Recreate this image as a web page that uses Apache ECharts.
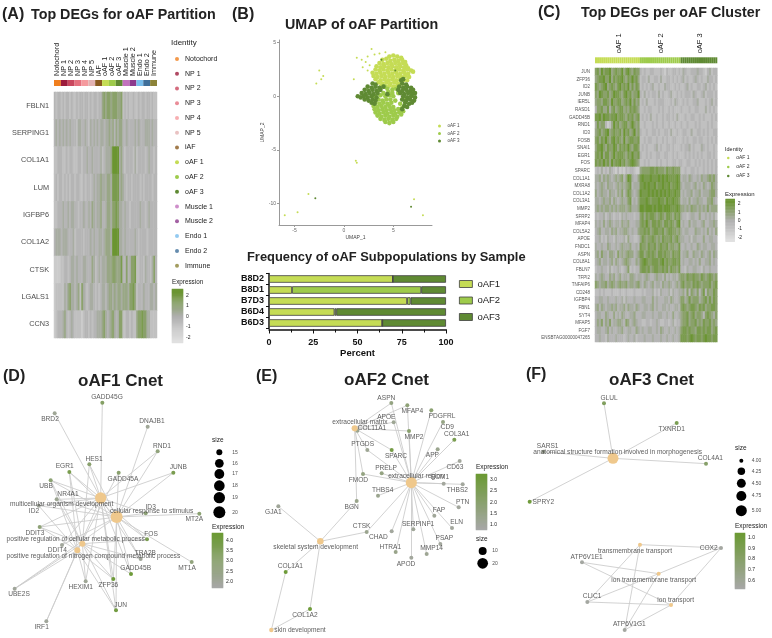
<!DOCTYPE html>
<html>
<head>
<meta charset="utf-8">
<style>
  html, body { margin: 0; background: #fff; }
  #chart { width: 772px; height: 638px; }
</style>
</head>
<body>
<div id="chart"></div>
<script src="https://cdn.jsdelivr.net/npm/echarts@6/dist/echarts.min.js"></script>
<script>
// ---- data ----
const identities = ['Notochord', 'NP 1', 'NP 2', 'NP 3', 'NP 4', 'NP 5', 'iAF', 'oAF 1', 'oAF 2', 'oAF 3', 'Muscle 1', 'Muscle 2', 'Endo 1', 'Endo 2', 'Immune']
const identityColors = ['#f07f1e', '#9c1b3c', '#c9475e', '#e5707e', '#f59a9e', '#e3b3b3', '#8a5a1f', '#c5dc55', '#9ecb4b', '#5f8a33', '#c272bd', '#8c3a8c', '#78bdec', '#3f6f9a', '#8c8338']

// panel A, one digit per cell (0 low .. 9 high), 4 cells per identity
const genesA = ['FBLN1', 'SERPING1', 'COL1A1', 'LUM', 'IGFBP6', 'COL1A2', 'CTSK', 'LGALS1', 'CCN3']
const heatA = [
  '4344 3434 4343 3434 4344 3434 4344 6767 7677 7667 3434 3343 3434 4344 3433',
  '4545 4545 4544 4355 4454 3545 4545 5455 6564 6566 4454 4445 4544 4555 4544',
  '3344 4334 3443 3344 3445 4454 4445 3455 5699 9956 4344 4435 3444 4345 4434',
  '3434 4343 4344 3443 3434 4345 4556 5556 6588 8856 5434 4344 4434 3444 4344',
  '3344 4544 5455 4434 4544 5465 4556 4456 6577 8755 4544 3444 4454 4345 4444',
  '4555 4555 4445 3444 4344 4545 4455 4566 6599 9955 4544 4445 4344 4434 4444',
  '2222 3344 3455 4544 4554 4465 3454 5556 6677 6668 4474 5778 3344 3544 3574',
  '2333 3354 6755 4563 7543 4554 3434 5545 6656 5665 6665 7786 3444 5444 5545',
  '2344 4564 3454 3333 2344 3434 4555 6754 5675 4577 3344 3433 6778 7755 3333'
]

// panel B, UMAP
const umapXTicks = [-5, 0, 5]
const umapYTicks = [-10, -5, 0, 5]
const umapOaf1 = [
  [4.6,3.7],[5.0,3.8],[5.4,3.7],[5.8,3.6],[3.9,3.4],[4.3,3.5],[4.7,3.3],[5.1,3.4],[5.5,3.3],[5.9,3.4],[6.2,3.2],
  [3.6,3.1],[4.0,3.0],[4.4,3.1],[4.8,3.0],[5.2,3.1],[5.6,3.0],[6.0,3.1],[6.3,2.9],[3.3,2.8],[3.7,2.7],[4.1,2.8],[4.5,2.7],
  [4.9,2.8],[5.3,2.7],[5.7,2.8],[6.1,2.7],[6.5,2.6],[3.2,2.5],[3.6,2.4],[4.0,2.5],[4.4,2.4],[4.8,2.5],[5.2,2.4],[5.6,2.5],
  [6.0,2.4],[6.4,2.5],[6.8,2.4],[2.9,2.2],[3.3,2.1],[3.7,2.2],[4.1,2.1],[4.5,2.2],[4.9,2.1],[5.3,2.2],[5.7,2.1],[6.1,2.2],
  [6.5,2.1],[7.0,2.3],[3.0,1.9],[3.4,1.8],[3.8,1.9],[4.2,1.8],[4.6,1.9],[5.0,1.8],[5.4,1.9],[5.8,1.8],[6.2,1.9],[6.6,1.8],
  [3.2,1.6],[3.7,1.5],[4.1,1.6],[4.5,1.5],[4.9,1.6],[5.3,1.5],[5.7,1.6],[6.0,1.5],[6.4,1.5],[3.5,1.3],[3.9,1.2],[4.3,1.3],
  [4.7,1.2],[5.1,1.3],[5.5,1.2],[5.9,1.2],[3.8,1.0],[4.2,0.9],[4.6,1.0],[5.0,0.9],[5.4,1.0]
]
const umapOaf2 = [
  [4.2,-2.4],[4.6,-2.5],[5.0,-2.4],[3.7,-2.1],[4.1,-2.2],[4.5,-2.1],[4.9,-2.2],[5.3,-2.1],[3.4,-1.8],[3.8,-1.9],[4.2,-1.8],
  [4.6,-1.9],[5.0,-1.8],[5.4,-1.9],[5.8,-1.7],[3.2,-1.5],[3.6,-1.6],[4.0,-1.5],[4.4,-1.6],[4.8,-1.5],[5.2,-1.6],[5.6,-1.5],
  [6.0,-1.4],[3.1,-1.2],[3.5,-1.3],[3.9,-1.2],[4.3,-1.3],[4.7,-1.2],[5.1,-1.3],[5.5,-1.2],[5.9,-1.1],[3.0,-0.9],[3.4,-1.0],
  [3.8,-0.9],[4.2,-1.0],[4.6,-0.9],[5.0,-1.0],[3.2,-0.6],[3.6,-0.7],[4.0,-0.6],[4.4,-0.7],[4.8,-0.6],[3.5,-0.3],[3.9,-0.4],
  [4.3,-0.3],[4.7,-0.3],[5.2,-0.4],[3.1,0.0],[3.7,0.1],[4.2,0.0],[4.6,0.1],[5.0,0.0],[4.0,0.3],[4.5,0.4],[4.9,0.3],[5.5,0.3],
  [3.6,0.6],[4.4,0.7],[4.9,0.6],[5.3,0.7],[4.1,0.9],[5.7,-0.7],[6.0,-0.3]
]
const umapOaf3 = [
  [2.9,1.2],[3.2,1.1],[2.4,0.9],[2.8,0.8],[3.2,0.9],[3.6,0.8],[2.1,0.6],[2.5,0.5],[2.9,0.6],[3.3,0.5],[3.7,0.6],[1.8,0.3],
  [2.2,0.2],[2.6,0.3],[3.0,0.2],[3.4,0.3],[1.4,0.0],[1.7,-0.1],[2.0,0.0],[2.4,-0.1],[2.8,0.0],[3.3,-0.1],[2.1,-0.3],[2.5,-0.4],
  [2.9,-0.3],[3.2,-0.4],[2.8,-0.6],[3.1,-0.7],[4.0,0.9],[4.4,0.2],
  [5.8,1.5],[6.0,1.6],[5.9,1.2],[6.3,1.1],[5.6,0.9],[6.0,0.8],[6.4,0.9],[6.8,0.8],[5.5,0.6],[5.9,0.5],[6.3,0.6],[6.7,0.5],
  [7.0,0.6],[5.7,0.3],[6.1,0.2],[6.5,0.3],[6.9,0.2],[7.2,0.3],[6.0,0.0],[6.4,-0.1],[6.8,0.0],[7.2,-0.1],[5.9,-0.3],[6.3,-0.4],
  [6.7,-0.3],[7.1,-0.4],[6.2,-0.6],[6.6,-0.7],[6.9,-0.6],[6.1,-0.9],[6.4,-1.0],[5.9,-1.2]
]
// lone cells away from the main cloud
const strayOaf1 = [
  [2.8,4.4],[2.4,3.7],[1.3,3.6],[1.8,3.4],[2.2,3.2],[3.1,3.9],[3.6,4.0],[4.2,4.1],[2.6,2.9],[1.9,2.7],[2.4,2.4],[1.0,1.6],
  [-2.5,2.4],[-2.1,1.9],[-2.3,1.6],[-2.8,1.2],[1.2,-6.0],[1.3,-6.2],[-3.6,-9.1],[-6.0,-11.1],[-4.7,-10.8],[7.1,-9.6],[8.0,-11.1]
]
const strayOaf2 = [[5.7,-0.7],[6.0,-0.3]]
const strayOaf3 = [[-2.9,-9.5],[6.8,-10.3],[3.8,3.4],[5.2,2.4]]

// panel B, percent per sample
const samples = ['B6D3', 'B6D4', 'B7D3', 'B8D1', 'B8D2']
const freqOaf1 = [64, 37, 78, 13, 70]
const freqOaf2 = [0, 1, 2, 73, 0]
const freqOaf3 = [36, 62, 20, 14, 30]

// panel C, one digit per cell, columns per cluster 22 / 20 / 18
const clusterNames = ['oAF 1', 'oAF 2', 'oAF 3']
const clusterCols = [22, 20, 18]
const genesC = ['JUN', 'ZFP36', 'ID2', 'JUNB', 'IER5L', 'RASD1', 'GADD45B', 'RND1', 'ID3', 'FOSB', 'SNAI1', 'EGR1', 'FOS', 'SPARC', 'COL1A1', 'MXRA8', 'COL1A2', 'COL3A1', 'MMP2', 'SFRP2', 'MFAP4', 'COL5A2', 'APOE', 'FNDC1', 'ASPN', 'COL8A1', 'FBLN7', 'TFPI2', 'TNFAIP6', 'CD248', 'IGFBP4', 'FBN1', 'SYT4', 'MFAP5', 'FGF7', 'ENSBTAG00000047265']
const heatC = [
  '78697 88967 87796 89768 77 43433 44333 43243 34434 35433 44454 43245 344',
  '67889 77968 78897 68797 86 34435 33443 53344 34343 45343 34543 43354 434',
  '87678 96787 68978 79686 87 34343 45334 33544 33434 33453 43344 34534 343',
  '76987 78679 88768 97867 79 43534 34435 34334 53343 43444 35433 45344 434',
  '67768 87697 78867 87968 67 34353 33434 44333 43543 34343 34453 33434 534',
  '47786 68578 67886 76878 76 33434 43334 34334 34333 43334 33443 33534 343',
  '88979 88788 97887 68786 78 34343 53343 34344 34353 33433 44334 34333 434',
  '58677 42369 78678 86797 67 33433 34343 34334 33433 43343 33434 33343 433',
  '67867 89678 77869 78679 67 43343 34434 33443 53343 34433 53344 34343 344',
  '78687 97689 78769 67887 78 33434 43343 34343 34433 34343 34434 43343 434',
  '68897 68779 86878 79768 87 34343 33453 43344 34333 43445 34333 54343 343',
  '78796 88679 78887 68797 78 43343 43344 33443 34343 33434 34343 43344 343',
  '87879 78697 88978 67898 76 33434 33343 43343 34434 43344 33434 34343 434',
  '34353 43543 24232 43443 22 67777 88787 77687 78777 33433 44343 34343 434',
  '55646 56545 65674 69854 46 89888 98889 89898 88898 45546 54454 65567 675',
  '54565 46554 56565 67845 55 88989 88978 89889 78898 54555 45645 46545 765',
  '64565 54655 46574 68754 56 98889 89898 98989 88988 45455 64556 45556 775',
  '55456 55646 54565 57845 46 88898 78889 88798 89887 45546 45565 54466 754',
  '56565 66565 65666 56755 56 99899 98989 98999 88898 66565 76656 56575 666',
  '43445 34543 44354 54443 44 78687 88767 87688 76878 54434 55446 44545 453',
  '54546 45654 55465 56444 55 78797 68878 76887 87689 45446 45544 56445 565',
  '45644 55465 64556 65454 46 77878 67887 78678 87767 54554 44655 45464 546',
  '44534 35443 54445 36443 34 68767 78767 68777 86786 55445 35544 46445 544',
  '54454 46544 54565 55644 54 87768 77867 87786 77668 44544 54465 45544 554',
  '56475 54665 47565 67664 56 88678 78768 87877 68778 45564 46554 65456 465',
  '45645 54564 65456 76544 65 78987 78887 89787 78878 45445 54546 44556 454',
  '34454 43534 45434 57343 44 78878 67887 78786 87768 44354 45544 35445 444',
  '54565 44656 45645 54665 45 54565 44565 54645 45546 77687 78776 87678 767',
  '76566 75676 56766 75665 67 54654 56455 46556 54565 78677 68787 67778 678',
  '33434 33343 33433 43334 33 34344 45343 54445 35445 56474 76574 68476 687',
  '44554 45444 54453 54445 44 45544 46454 44554 65445 77568 67775 67868 687',
  '56465 45565 64556 46554 65 44554 56454 45545 44554 78767 88768 78677 887',
  '45544 65446 45465 44556 44 45544 45445 54454 46445 67786 78677 64787 657',
  '46574 65745 56654 76456 54 43344 34454 33443 45344 67786 77867 68778 676',
  '45544 56454 45564 45544 65 45445 54454 65445 44545 78878 77688 78788 678',
  '44544 35444 54443 45445 34 44544 45444 54454 45445 88878 98788 78988 788'
]

// panel D network: gene [name, x, y, expression, label x, label y]
const genesD = [
  ['GADD45G', 307, 128, 3.2, 321, 113], ['BRD2', 164, 160, 2.1, 150, 178], ['DNAJB1', 443, 200, 2.1, 456, 184],
  ['RND1', 473, 274, 2.7, 486, 258], ['JUNB', 520, 338, 3.7, 535, 322], ['HES1', 268, 313, 3.0, 282, 297],
  ['EGR1', 208, 336, 3.7, 194, 319], ['GADD45A', 356, 338, 3.0, 369, 357], ['UBB', 152, 361, 2.9, 138, 379],
  ['NR4A1', 170, 418, 2.2, 204, 403], ['ID2', 116, 437, 2.0, 102, 454], ['DDIT3', 119, 501, 2.8, 105, 520],
  ['DDIT4', 186, 555, 2.0, 172, 572], ['ID3', 437, 460, 2.8, 452, 442], ['MT2A', 598, 461, 2.9, 583, 478],
  ['FOS', 441, 538, 3.6, 453, 522], ['TRA2B', 422, 597, 2.0, 436, 581], ['MT1A', 575, 606, 2.7, 561, 624],
  ['GADD45B', 393, 642, 4.2, 407, 625], ['ZFP36', 340, 657, 4.2, 325, 675], ['HEXIM1', 257, 664, 2.1, 242, 683],
  ['JUN', 348, 751, 4.0, 362, 736], ['UBE2S', 44, 686, 2.0, 57, 704], ['IRF1', 139, 784, 2.0, 125, 802]
]
// term [name, x, y, gene count, label x, label y]
const termsD = [
  ['multicellular organism development', 302, 414, 19, 185, 434],
  ['cellular response to stimulus', 350, 471, 20, 455, 453],
  ['positive regulation of cellular metabolic process', 247, 551, 15, 227, 537],
  ['positive regulation of nitrogen compound metabolic process', 232, 571, 15, 280, 590]
]
const linksD = [
  ['GADD45G', 'BRD2', 'JUNB', 'HES1', 'EGR1', 'UBB', 'NR4A1', 'ID2', 'DDIT3', 'DDIT4', 'ID3', 'FOS', 'TRA2B', 'GADD45B', 'ZFP36', 'JUN', 'HEXIM1', 'IRF1', 'RND1'],
  ['DNAJB1', 'RND1', 'JUNB', 'GADD45A', 'HES1', 'EGR1', 'UBB', 'NR4A1', 'ID2', 'MT2A', 'ID3', 'FOS', 'TRA2B', 'MT1A', 'GADD45B', 'ZFP36', 'JUN', 'DDIT3', 'DDIT4', 'UBE2S'],
  ['EGR1', 'HES1', 'UBB', 'NR4A1', 'DDIT3', 'FOS', 'GADD45B', 'ZFP36', 'JUN', 'HEXIM1', 'UBE2S', 'TRA2B'],
  ['EGR1', 'UBB', 'ID2', 'DDIT3', 'GADD45A', 'ZFP36', 'JUN', 'HEXIM1', 'IRF1', 'UBE2S']
]

// panel E network
const genesE = [
  ['ASPN', 424, 129, 1.6, 409, 114], ['MFAP4', 472, 136, 1.8, 487, 155], ['PDGFRL', 544, 151, 1.9, 576, 170],
  ['APOE', 431, 187, 1.2, 409, 171], ['CD9', 579, 186, 1.5, 592, 203], ['COL11A1', 322, 212, 1.3, 366, 205],
  ['MMP2', 477, 213, 2.0, 492, 232], ['COL3A1', 613, 239, 2.6, 620, 223], ['PTGDS', 352, 270, 1.2, 338, 254],
  ['SPARC', 425, 270, 2.8, 438, 289], ['APP', 563, 268, 1.3, 547, 287], ['CD63', 629, 303, 1.0, 615, 323],
  ['PRELP', 395, 340, 1.6, 408, 325], ['FMOD', 339, 342, 1.6, 325, 361], ['ECM1', 581, 371, 1.0, 570, 352],
  ['THBS2', 638, 373, 1.0, 622, 392], ['THBS4', 384, 407, 1.3, 398, 392], ['PTN', 626, 442, 1.0, 638, 426],
  ['BGN', 320, 423, 1.4, 305, 442], ['FAP', 553, 467, 1.1, 567, 452], ['ELN', 606, 504, 1.0, 620, 488],
  ['GJA1', 85, 439, 1.1, 70, 458], ['CTSK', 350, 516, 1.3, 335, 500], ['CHAD', 425, 514, 1.0, 385, 531],
  ['SERPINF1', 490, 508, 1.1, 504, 492], ['PSAP', 571, 552, 1.0, 583, 536], ['MMP14', 530, 582, 1.2, 545, 566],
  ['HTRA1', 437, 576, 1.4, 421, 562], ['APOD', 484, 593, 1.0, 468, 612], ['COL1A1', 107, 636, 3.1, 121, 619],
  ['COL1A2', 180, 747, 3.1, 165, 765]
]
const termsE = [
  ['extracellular region', 484, 368, 22, 498, 349],
  ['extracellular matrix', 314, 205, 5, 330, 187],
  ['skeletal system development', 211, 544, 6, 197, 563],
  ['skin development', 64, 810, 2, 150, 812]
]
const linksE = [
  ['ASPN', 'MFAP4', 'PDGFRL', 'APOE', 'CD9', 'MMP2', 'COL3A1', 'PTGDS', 'SPARC', 'APP', 'CD63', 'PRELP', 'FMOD', 'ECM1', 'THBS2', 'THBS4', 'PTN', 'FAP', 'ELN', 'CTSK', 'CHAD', 'SERPINF1', 'PSAP', 'MMP14', 'HTRA1', 'APOD'],
  ['ASPN', 'MFAP4', 'APOE', 'COL11A1', 'MMP2', 'SPARC', 'PTGDS', 'FMOD', 'BGN'],
  ['GJA1', 'BGN', 'CTSK', 'COL1A1', 'COL1A2'],
  ['COL1A1', 'COL1A2']
]

// panel F network
const genesF = [
  ['GLUL', 282, 130, 0.85, 297, 114], ['TXNRD1', 500, 189, 0.9, 485, 207], ['COL4A1', 588, 311, 0.8, 601, 295],
  ['SPRY2', 59, 425, 1.0, 100, 427], ['SARS1', 100, 275, 0.6, 113, 260], ['COX2', 633, 564, 0.55, 596, 565],
  ['ATP6V1E1', 216, 607, 0.55, 230, 592], ['CLIC1', 232, 726, 0.55, 246, 710], ['ATP6V1G1', 344, 810, 0.55, 358, 793]
]
const termsF = [
  ['anatomical structure formation involved in morphogenesis', 309, 295, 5, 323, 278],
  ['transmembrane transport', 390, 554, 4, 375, 573],
  ['ion transmembrane transport', 446, 641, 4, 431, 660],
  ['ion transport', 483, 735, 4, 497, 720]
]
const linksF = [
  ['GLUL', 'TXNRD1', 'COL4A1', 'SPRY2', 'SARS1'],
  ['COX2', 'CLIC1', 'ATP6V1G1'],
  ['COX2', 'ATP6V1E1', 'CLIC1', 'ATP6V1G1'],
  ['COX2', 'ATP6V1E1', 'CLIC1', 'ATP6V1G1']
]

const sizeTicksD = [15, 16, 17, 18, 19, 20]
const sizeTicksE = [10, 20]
const sizeTicksF = [4, 4.25, 4.5, 4.75, 5]

// ---- styling ----
const FONT = '"Liberation Sans", Arial, sans-serif'
const C1 = '#c5dc55'
const C2 = '#9ecb4b'
const C3 = '#5f8a33'
const TERM_COLOR = '#efc88c'
const EDGE_COLOR = '#cdcdcd'
const GREY_LOW = '#a8a8a8'
const GREEN_HIGH = '#6b9a33'

const grids = []
const xAxes = []
const yAxes = []
const series = []
const titles = []
const heatSeries = []
const normSeries = []

// add a grid with its two axes and return the index
const addGrid = (box, xAxis, yAxis) => {
  const i = grids.length
  grids.push({ left: box[0], top: box[1], width: box[2], height: box[3] })
  xAxes.push({ gridIndex: i, ...xAxis })
  yAxes.push({ gridIndex: i, ...yAxis })
  return i
}

const addTitle = (text, x, y, size, weight, color) => {
  titles.push({
    text, left: x, top: y - size / 2, padding: 0,
    textStyle: { fontFamily: FONT, fontSize: size, fontWeight: weight || 'normal', color: color || '#222', lineHeight: size }
  })
}

const hidden = { show: false }

// digit rows to heatmap cells
const addHeat = (box, rows, rowNames, fontSize, labelColor) => {
  const cells = []
  const parsed = rows.map(r => r.replace(/ /g, ''))
  parsed.forEach((r, y) => {
    r.split('').forEach((d, x) => cells.push([x, y, (Number(d) - 4.5) / 2]))
  })
  const i = addGrid(box,
    { type: 'category', data: parsed[0].split('').map((d, x) => x), show: false },
    {
      type: 'category', data: rowNames, inverse: true,
      axisLine: hidden, axisTick: hidden,
      axisLabel: { interval: 0, fontSize, color: labelColor, fontFamily: FONT, margin: 5 }
    })
  heatSeries.push(series.length)
  series.push({ type: 'heatmap', xAxisIndex: i, yAxisIndex: i, data: cells, silent: true })
}

// colored strip on top of a heatmap, labels come from the category axis
const addStrip = (box, names, colors, labelStep, fontSize) => {
  const i = addGrid(box,
    {
      type: 'category', data: names, position: 'top',
      axisLine: hidden, axisTick: hidden,
      axisLabel: { rotate: 90, interval: labelStep, fontSize, color: '#222', fontFamily: FONT, margin: 4 }
    },
    { type: 'value', min: 0, max: 1, show: false })
  series.push({
    type: 'bar', xAxisIndex: i, yAxisIndex: i, barWidth: '100%', silent: true,
    data: colors.map(c => ({ value: 1, itemStyle: { color: c } }))
  })
}

// legend colorbar, ticks on the category axis
const addColorbar = (box, lo, hi, ticks, digits, isHeat) => {
  const n = 56
  const levels = []
  for (let k = 0; k < n; k++) levels.push(lo + (hi - lo) * (k + 0.5) / n)
  const labelAt = {}
  ticks.forEach(t => { labelAt[Math.round((t - lo) / (hi - lo) * n - 0.5)] = t.toFixed(digits) })
  const i = addGrid(box,
    { type: 'category', data: [''], show: false },
    {
      type: 'category', data: levels.map((v, k) => k), position: 'right',
      axisLine: hidden, axisTick: hidden,
      axisLabel: { interval: 0, fontSize: 5, color: '#222', fontFamily: FONT, margin: 3, formatter: v => labelAt[v] || '' }
    })
  const data = levels.map((v, k) => [0, k, isHeat ? v : (v - lo) / (hi - lo)])
  ;(isHeat ? heatSeries : normSeries).push(series.length)
  series.push({ type: 'heatmap', xAxisIndex: i, yAxisIndex: i, data, silent: true })
}

// free text on data coordinates of a panel grid
const addTexts = (gi, rows, fontSize, align, color) => {
  series.push({
    type: 'scatter', xAxisIndex: gi, yAxisIndex: gi, symbolSize: 0.01, silent: true, z: 5,
    data: rows.map(r => ({ name: r[0], value: [r[1], r[2]] })),
    label: { show: true, position: 'inside', formatter: '{b}', fontSize, align, color: color || '#333', fontFamily: FONT }
  })
}

// cnet panel: coordinates are read in a 3x frame of the panel, that is why the axes run to 834
const addNetwork = (base, width, genes, terms, links, lo, hi, sizeOf) => {
  const gi = addGrid([base, 360, width / 3, 278],
    { type: 'value', min: 0, max: width, show: false },
    { type: 'value', min: 0, max: 834, inverse: true, show: false })
  const color = v => echarts.color.lerp(Math.min(1, Math.max(0, (v - lo) / (hi - lo))), [GREY_LOW, GREEN_HIGH])
  const nodes = genes.map(g => ({ name: g[0], value: [g[1], g[2]], symbolSize: 4, itemStyle: { color: color(g[3]) } }))
    .concat(terms.map(t => ({ name: t[0], value: [t[1], t[2]], symbolSize: sizeOf(t[3]), itemStyle: { color: TERM_COLOR } })))
  const edges = []
  terms.forEach((t, k) => links[k].forEach(g => edges.push({ source: t[0], target: g })))
  series.push({
    type: 'graph', coordinateSystem: 'cartesian2d', xAxisIndex: gi, yAxisIndex: gi, layout: 'none',
    silent: true, data: nodes, links: edges, label: { show: false },
    lineStyle: { color: EDGE_COLOR, width: 0.9, opacity: 1, curveness: 0 }
  })
  addTexts(gi, genes.map(g => [g[0], g[4], g[5]]).concat(terms.map(t => [t[0], t[4], t[5]])), 6.6, 'center')
  return gi
}

// black dots of the size legend
const addSizeLegend = (gi, x, ys, labelX, ticks, sizeOf, digits) => {
  series.push({
    type: 'scatter', xAxisIndex: gi, yAxisIndex: gi, silent: true,
    data: ticks.map((t, k) => ({ value: [x, ys[k]], symbolSize: sizeOf(t) })),
    itemStyle: { color: '#000', opacity: 1 }
  })
  addTexts(gi, ticks.map((t, k) => [t.toFixed(digits), labelX, ys[k]]), 5, 'left', '#222')
}

// ---- panel A ----
addTitle('(A)', 2, 15, 16, 'bold')
addTitle('Top DEGs for oAF Partition', 31, 15, 14.3, 'bold')
addStrip([54, 80, 103, 6], identities, identityColors, 0, 7.2)
addHeat([54, 92, 103, 246], heatA, genesA, 7.3, '#4d4d4d')
addTitle('Identity', 171, 43, 8)
addTitle('Expression', 172, 282, 6.3)
addColorbar([172, 289, 11, 54], -2.47, 2.56, [-2, -1, 0, 1, 2], 0, true)

// ---- panel B, UMAP ----
addTitle('(B)', 232, 15, 16, 'bold')
addTitle('UMAP of oAF Partition', 285, 25, 14.3, 'bold')
const umapAxis = (min, max, ticks, name, nameGap) => ({
  type: 'value', min, max, name, nameLocation: 'middle', nameGap,
  nameTextStyle: { fontSize: 5, color: '#444', fontFamily: FONT },
  axisLine: { show: true, onZero: false, lineStyle: { color: '#999', width: 1 } },
  axisTick: { show: true, length: 2, customValues: ticks, lineStyle: { color: '#999' } },
  axisLabel: { fontSize: 5, color: '#666', margin: 3, fontFamily: FONT, customValues: ticks },
  splitLine: hidden
})
const umapGrid = addGrid([279, 40, 153, 185],
  umapAxis(-6.58, 8.92, umapXTicks, 'UMAP_1', 10),
  umapAxis(-12, 5.25, umapYTicks, 'UMAP_2', 12))
const umapSets = [[clusterNames[0], umapOaf1, strayOaf1, C1], [clusterNames[1], umapOaf2, strayOaf2, C2], [clusterNames[2], umapOaf3, strayOaf3, C3]]
umapSets.forEach(s => series.push({
  name: s[0], type: 'scatter', xAxisIndex: umapGrid, yAxisIndex: umapGrid, silent: true,
  data: s[1].map(p => ({ value: p, symbolSize: 4.6 })).concat(s[2].map(p => ({ value: p, symbolSize: 2 }))),
  itemStyle: { color: s[3], opacity: 1 }
}))

// identity legend entries without own points
identities.forEach((name, k) => {
  if (!clusterNames.includes(name)) {
    series.push({ name, type: 'scatter', xAxisIndex: 0, yAxisIndex: 0, data: [], itemStyle: { color: identityColors[k] } })
  }
})

// ---- panel B, stacked bars ----
addTitle('Frequency of oAF Subpopulations by Sample', 247, 257, 12.9, 'bold')
const barGrid = addGrid([269, 273.5, 177, 55],
  {
    type: 'value', min: 0, max: 100, interval: 25, name: 'Percent', nameLocation: 'middle', nameGap: 19,
    nameTextStyle: { fontSize: 9.5, fontWeight: 'bold', color: '#111', fontFamily: FONT },
    offset: 1,
    axisLine: { show: true, lineStyle: { color: '#111', width: 1.5 } },
    axisTick: { show: true, length: 4, lineStyle: { color: '#111', width: 1 } },
    minorTick: { show: true, splitNumber: 2, length: 3, lineStyle: { color: '#111' } },
    axisLabel: { fontSize: 9, fontWeight: 'bold', color: '#111', margin: 9, fontFamily: FONT },
    splitLine: hidden, minorSplitLine: hidden
  },
  {
    type: 'category', data: samples,
    axisLine: { show: true, lineStyle: { color: '#111', width: 1.5 } },
    axisTick: { show: true, length: 3, lineStyle: { color: '#111' } },
    axisLabel: { interval: 0, fontSize: 9, fontWeight: 'bold', color: '#111', margin: 5, fontFamily: FONT }
  })
const barSets = [['oAF1', freqOaf1, C1], ['oAF2', freqOaf2, C2], ['oAF3', freqOaf3, C3]]
barSets.forEach(s => series.push({
  name: s[0], type: 'bar', stack: 'freq', xAxisIndex: barGrid, yAxisIndex: barGrid, data: s[1], barWidth: 7.5, silent: true,
  itemStyle: { color: s[2], borderColor: '#3f3f3f', borderWidth: 0.8 }
}))

// ---- panel C ----
addTitle('(C)', 538, 13, 16, 'bold')
addTitle('Top DEGs per oAF Cluster', 581, 13, 14.3, 'bold')
const colNames = []
const colColors = []
const labelCols = []
clusterCols.forEach((n, k) => {
  labelCols.push(colNames.length + Math.floor(n / 2))
  for (let j = 0; j < n; j++) {
    colNames.push(clusterNames[k])
    colColors.push([C1, C2, C3][k])
  }
})
addStrip([595, 57.3, 122.3, 6], colNames, colColors, i => labelCols.includes(i), 7.5)
addHeat([595, 68, 122.3, 274], heatC, genesC, 4.5, '#555')
addTitle('Identity', 725, 149, 5.5)
addTitle('Expression', 725, 194, 6)
addColorbar([725.7, 199, 9, 42.7], -2.47, 2.56, [-2, -1, 0, 1, 2], 0, true)

// ---- panel D ----
const sizeD = c => 6 + 6 * Math.sqrt((c - 15) / 5)
addTitle('(D)', 3, 377, 16, 'bold')
addTitle('oAF1 Cnet', 78, 381, 17, 'bold')
const gridD = addNetwork(0, 780, genesD, termsD, linksD, 1.7, 4.33, sizeD)
addSizeLegend(gridD, 658, [277, 310, 342, 377, 413, 457], 697, sizeTicksD, sizeD, 0)
addTitle('size', 212, 440, 6.5)
addTitle('Expression', 212, 527, 6.5)
addColorbar([212, 533, 11, 55], 1.71, 4.33, [2, 2.5, 3, 3.5, 4], 1, false)

// ---- panel E ----
const sizeE = c => 1.48 + 2.06 * Math.sqrt(c)
addTitle('(E)', 256, 377, 16, 'bold')
addTitle('oAF2 Cnet', 344, 380, 17, 'bold')
const gridE = addNetwork(250, 810, genesE, termsE, linksE, 0.78, 3.22, sizeE)
addSizeLegend(gridE, 698, [573, 610], 727, sizeTicksE, sizeE, 0)
addTitle('Expression', 476, 467, 6.5)
addTitle('size', 476, 539, 6.5)
addColorbar([476, 474, 11, 56], 0.78, 3.22, [1, 1.5, 2, 2.5, 3], 1, false)

// ---- panel F ----
const sizeF = c => 4 + 7 * Math.sqrt(c - 4)
addTitle('(F)', 526, 375, 16, 'bold')
addTitle('oAF3 Cnet', 609, 380, 17, 'bold')
const gridF = addNetwork(510, 786, genesF, termsF, linksF, 0.52, 1.04, sizeF)
addSizeLegend(gridF, 694, [302, 334, 370, 408, 452], 725, sizeTicksF, sizeF, 2)
addTitle('size', 735, 448, 6.5)
addTitle('Expression', 735, 526, 6.5)
addColorbar([735, 533, 10, 56], 0.52, 1.04, [0.6, 0.7, 0.8, 0.9, 1], 1, false)

const dotLegend = (names, left, top, fontSize, lineHeight, itemGap, dot, color) => ({
  data: names, orient: 'vertical', left, top, padding: 0, icon: 'circle',
  itemWidth: 6, itemHeight: dot, itemGap, selectedMode: false,
  textStyle: { fontSize, lineHeight, color, fontFamily: FONT }
})

const option = {
  animation: false,
  backgroundColor: '#fff',
  textStyle: { fontFamily: FONT },
  title: titles,
  grid: grids,
  xAxis: xAxes,
  yAxis: yAxes,
  legend: [
    dotLegend(identities, 175, 55, 7, 8, 6.76, 4, '#222'),
    dotLegend(clusterNames, 438, 123.5, 4.5, 5, 2.5, 3, '#444'),
    dotLegend(clusterNames, 727, 155, 5, 6, 3, 2.5, '#333'),
    {
      data: barSets.map(s => s[0]), orient: 'vertical', left: 459, top: 279, padding: 0, icon: 'rect',
      itemWidth: 13, itemHeight: 7, itemGap: 6.5, selectedMode: false,
      itemStyle: { borderColor: '#3f3f3f', borderWidth: 0.8 },
      textStyle: { fontSize: 9.5, lineHeight: 10, color: '#222', fontFamily: FONT }
    }
  ],
  visualMap: [
    {
      type: 'continuous', show: false, seriesIndex: heatSeries, dimension: 2, min: -2.25, max: 2.25,
      inRange: { color: ['#e0e0e0', '#b0b0b0', '#6b9532'] }
    },
    {
      type: 'continuous', show: false, seriesIndex: normSeries, dimension: 2, min: 0, max: 1,
      inRange: { color: [GREY_LOW, GREEN_HIGH] }
    }
  ],
  series
}

const chart = echarts.init(document.getElementById('chart'))
chart.setOption(option)
</script>
</body>
</html>
